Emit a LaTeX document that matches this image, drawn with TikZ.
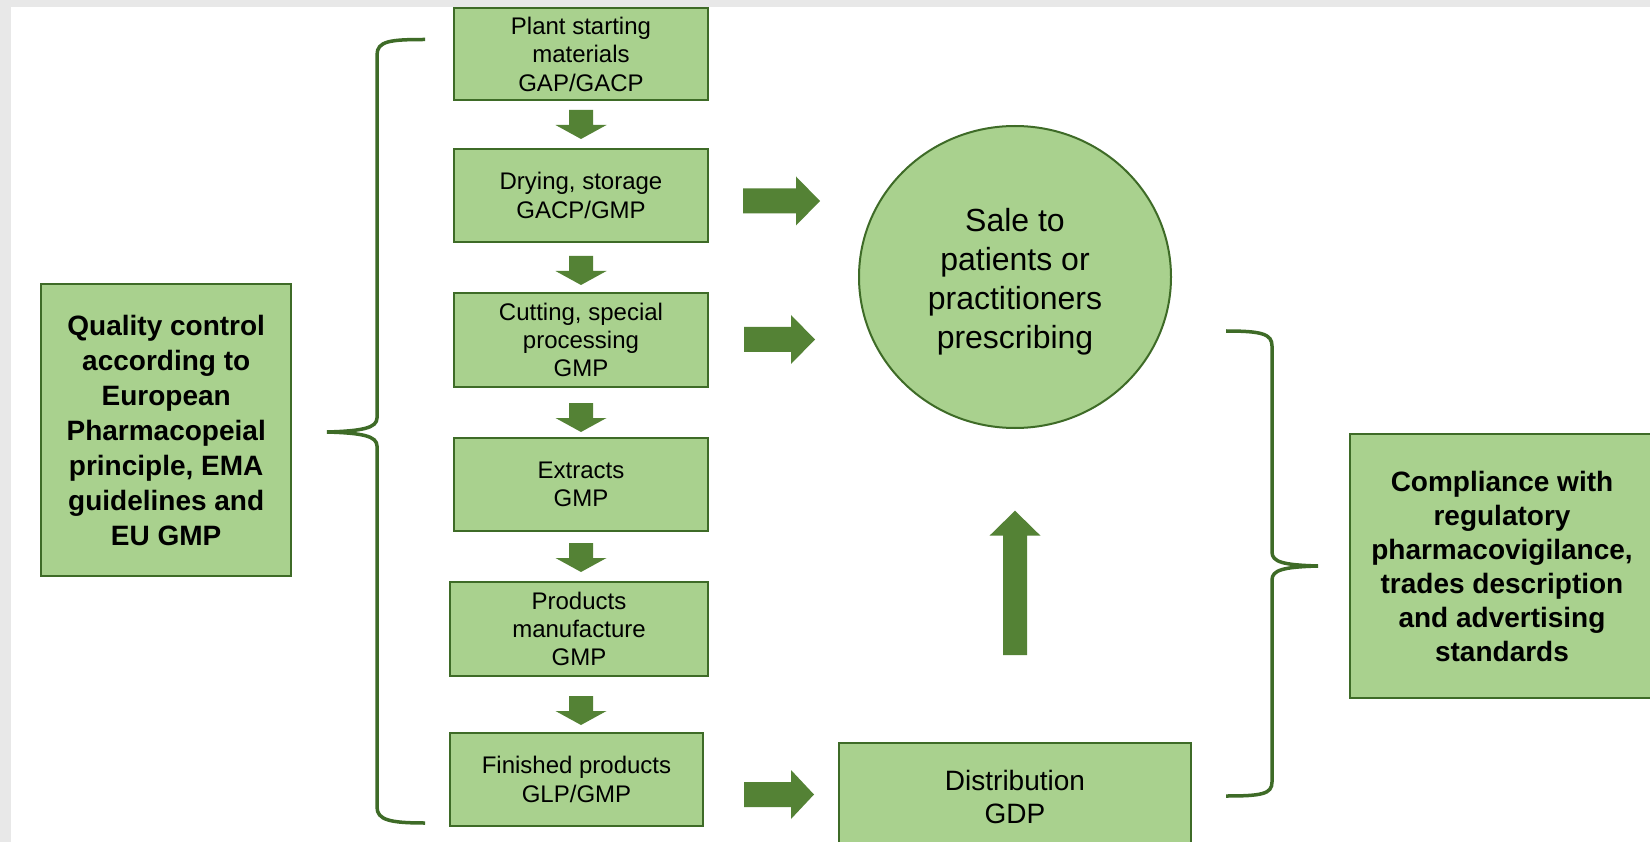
\documentclass[tikz,border=0pt]{standalone}
\usepackage{fontspec}
\setmainfont{Liberation Sans}
\usetikzlibrary{shapes.geometric,calc}
\definecolor{boxfill}{HTML}{A9D18E}
\definecolor{boxline}{HTML}{3E6B27}
\definecolor{arrowgreen}{HTML}{548235}
\definecolor{bggray}{HTML}{E8E8E8}
\tikzset{
  stepbox/.style={draw=boxline, line width=2pt, fill=boxfill, rectangle, inner sep=0pt,
    align=center, font=\fontsize{24}{28.2}\selectfont, minimum width=254pt, minimum height=92pt},
  bigbox/.style={draw=boxline, line width=2pt, fill=boxfill, rectangle, inner sep=0pt,
    align=center},
  bracepath/.style={draw=boxline, line width=3.5pt},
  blockarrow/.style={fill=arrowgreen},
}
\newcommand\downblock[1]{\fill[blockarrow] ($(#1)+(-12,-14.5)$) -- ++(24,0) -- ++(0,15) -- ++(13.5,0) -- ++(-25.5,14) -- ++(-25.5,-14) -- ++(13.5,0) -- cycle;}
% #1 start coordinate (left middle), #2 shaft length, #3 head length
\newcommand\rightblock[3]{\fill[blockarrow] ($(#1)+(0,-12.5)$) -- ++(#2,0) -- ++(0,-12) -- ++(#3,24.5) -- ++(-#3,24.5) -- ++(0,-12) -- ++(-#2,0) -- cycle;}
\begin{document}
\begin{tikzpicture}[x=1pt,y=-1pt]
\useasboundingbox (0,0) rectangle (1650,842);
\clip (0,0) rectangle (1650,842);
\fill[bggray] (0,0) rectangle (1650,842);
\fill[white] (11,7) rectangle (1660,850);

% process steps
\node[stepbox] (b1) at (581,54.3) {Plant starting\\materials\\GAP/GACP};
\node[stepbox, minimum height=93pt] (b2) at (581,195.5) {Drying, storage\\GACP/GMP};
\node[stepbox, minimum height=94pt] (b3) at (581,340) {Cutting, special\\processing\\GMP};
\node[stepbox, minimum height=93pt] (b4) at (581,484.5) {Extracts\\GMP};
\node[stepbox, minimum width=258pt, minimum height=94pt] (b5) at (579,629) {Products\\manufacture\\GMP};
\node[stepbox, minimum width=253pt, minimum height=93pt] (b6) at (576.5,779.5) {Finished products\\GLP/GMP};

% down arrows between steps
\coordinate (d1) at (581,124.5);
\coordinate (d2) at (581,270.5);
\coordinate (d3) at (581,417.5);
\coordinate (d4) at (581,557.5);
\coordinate (d5) at (581,710.5);
\downblock{d1}
\downblock{d2}
\downblock{d3}
\downblock{d4}
\downblock{d5}

% quality control box
\node[bigbox, minimum width=250.5pt, minimum height=291.6pt,
  font=\fontsize{28}{35}\selectfont\bfseries] (qc) at (166.2,430)
  {Quality control\\according to\\European\\Pharmacopeial\\principle, EMA\\guidelines and\\EU GMP};

% sale ellipse
\node[ellipse, draw=boxline, line width=2pt, fill=boxfill, inner sep=0pt,
  minimum width=312pt, minimum height=302pt, align=center,
  font=\fontsize{32}{39}\selectfont] (sale) at (1015,277)
  {\rule{0pt}{33pt}Sale to\\patients or\\practitioners\\prescribing};

% distribution box
\node[bigbox, minimum width=352pt, minimum height=108pt,
  font=\fontsize{28}{32.5}\selectfont] (dist) at (1015,797) {Distribution\\GDP};

% compliance box
\node[bigbox, minimum width=304pt, minimum height=264pt,
  font=\fontsize{28}{34}\selectfont\bfseries] (comp) at (1502,566)
  {Compliance with\\regulatory\\pharmacovigilance,\\trades description\\and advertising\\standards};

% right arrows
\coordinate (r1) at (743,201);
\coordinate (r2) at (744,339.5);
\coordinate (r3) at (744,794.5);
\rightblock{r1}{53}{24}
\rightblock{r2}{47}{24}
\rightblock{r3}{47}{23}

% up arrow from distribution to sale
\fill[blockarrow] (1003,655) -- (1027,655) -- (1027,535.7) -- (1040.5,535.7) -- (1015,510.7) -- (989.5,535.7) -- (1003,535.7) -- cycle;

% left brace
\draw[bracepath] (425,39.5) .. controls (390,39.5) and (377,41) .. (377,55) -- (377,418)
  .. controls (377,428) and (362,431) .. (327,432)
  .. controls (362,433) and (377,436) .. (377,446) -- (377,807)
  .. controls (377,820) and (390,823) .. (425,823);

% right brace
\draw[bracepath] (1226,331) .. controls (1262,331) and (1272,334) .. (1272,346) -- (1272,552)
  .. controls (1272,562) and (1283,565) .. (1318,566)
  .. controls (1283,567) and (1272,570) .. (1272,580) -- (1272,782)
  .. controls (1272,794) and (1262,796) .. (1226,796);
\end{tikzpicture}
\end{document}
